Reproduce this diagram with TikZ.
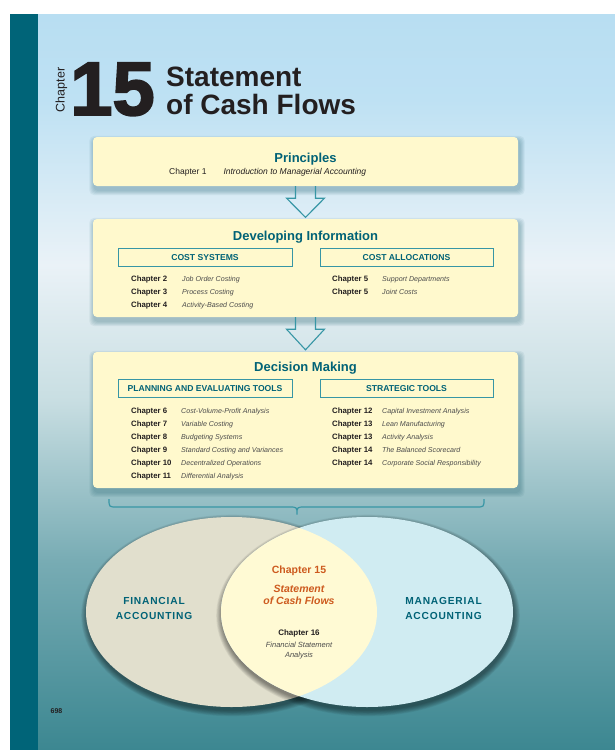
\documentclass[tikz,border=0pt]{standalone}
\usepackage{fontspec}
\setmainfont{Liberation Sans}
\newfontfamily\heavyfont[FakeBold=2.5]{Liberation Sans Bold}
\newfontfamily\trackfont[LetterSpace=8]{Liberation Sans Bold}
\usepackage{xcolor}
\usetikzlibrary{positioning}
\definecolor{PageTeal}{RGB}{0,100,120}
\definecolor{TitleTeal}{RGB}{0,98,118}
\definecolor{FrameTeal}{RGB}{55,150,165}
\definecolor{ShadowTeal}{RGB}{30,95,110}
\definecolor{BoxCream}{RGB}{255,249,205}
\definecolor{InkDark}{RGB}{35,31,32}
\definecolor{InkGray}{RGB}{75,75,75}
\definecolor{FlowOrange}{RGB}{205,90,30}
\definecolor{FinBeige}{RGB}{225,223,205}
\definecolor{MgrBlue}{RGB}{208,236,242}
\definecolor{LensYellow}{RGB}{255,250,212}
\definecolor{BgTop}{RGB}{184,222,242}
\definecolor{BgA}{RGB}{190,225,243}
\definecolor{BgLight}{RGB}{234,242,247}
\definecolor{BgB}{RGB}{200,222,226}
\definecolor{BgC}{RGB}{120,172,180}
\definecolor{BgBottom}{RGB}{60,135,145}
\pgfdeclarelayer{page}
\pgfdeclarelayer{haze}
\pgfsetlayers{page,haze,main}

\begin{document}
\begin{tikzpicture}[x=1pt, y=-1pt,
    stagebox/.style={fill=BoxCream, rounded corners=4pt, minimum width=425pt, inner sep=0pt},
    stagetitle/.style={anchor=base, inner sep=0pt, font=\fontsize{13}{15}\selectfont\bfseries, text=TitleTeal},
    subbox/.style={draw=FrameTeal, line width=0.9pt, minimum height=18pt, inner sep=0pt, text depth=0pt,
                   font=\fontsize{8.6}{10}\selectfont\bfseries, text=TitleTeal},
    chapnum/.style={anchor=base west, inner sep=0pt, font=\fontsize{7.8}{9}\selectfont\bfseries, text=InkDark},
    chapname/.style={anchor=base west, inner sep=0pt, font=\fontsize{7.1}{8}\selectfont\itshape, text=InkGray},
    hollow/.style={draw=FrameTeal, line width=1.1pt, line join=miter},
    venntag/.style={anchor=base, inner sep=0pt, font=\trackfont\fontsize{10.2}{12}\selectfont, text=TitleTeal},
    lenstext/.style={anchor=base, inner sep=0pt, text=FlowOrange, font=\fontsize{10.5}{12}\selectfont\bfseries}
]
\useasboundingbox (0,0) rectangle (615,750);

% Page, side strip and sky-to-teal backdrop
\begin{pgfonlayer}{page}
\fill[white] (0,0) rectangle (615,750);
\fill[PageTeal] (10,14) rectangle (38,750);
\fill[top color=BgTop, bottom color=BgA] (38,14) rectangle (615,100.5);
\fill[top color=BgA, bottom color=BgLight] (38,100) rectangle (615,265.5);
\fill[top color=BgLight, bottom color=BgB] (38,265) rectangle (615,400.5);
\fill[top color=BgB, bottom color=BgC] (38,400) rectangle (615,560.5);
\fill[top color=BgC, bottom color=BgBottom] (38,560) rectangle (615,750);
\end{pgfonlayer}

% Heading
\node[rotate=90, anchor=base, inner sep=0pt, text=InkDark, font=\fontsize{12.5}{14}\selectfont] (chapword) at (64.5,90) {Chapter};
\node[anchor=base west, inner sep=0pt, text=InkDark, font=\heavyfont\fontsize{76}{80}\selectfont] (chapno) at (70,115) {15};
\node[anchor=base west, inner sep=0pt, text=InkDark, font=\fontsize{28}{30}\selectfont\bfseries] (head1) at (166,86) {Statement};
\node[anchor=base west, inner sep=0pt, text=InkDark, font=\fontsize{28}{30}\selectfont\bfseries] (head2) at (166,114) {of Cash Flows};

% Stage boxes
\node[stagebox, minimum height=49pt] (princ) at (305.5,161.5) {};
\node[stagebox, minimum height=98pt] (devinfo) at (305.5,268) {};
\node[stagebox, minimum height=136pt] (decmake) at (305.5,420) {};

\begin{pgfonlayer}{haze}
\foreach \b in {princ,devinfo,decmake} {
  \foreach \d in {1,...,5} {
    \fill[ShadowTeal, opacity=0.07, rounded corners=5pt]
      ([shift={(1.5-\d,4-\d)}]\b.north west) rectangle ([shift={(1.5+\d,4+\d)}]\b.south east);
  }
}
\end{pgfonlayer}

% Hollow arrows between stages
\draw[hollow] ([xshift=-10pt]princ.south) -- ([xshift=-10pt,yshift=-12pt]princ.south)
  -- ([xshift=-19pt,yshift=-12pt]princ.south) -- ([yshift=1.5pt]devinfo.north)
  -- ([xshift=19pt,yshift=-12pt]princ.south) -- ([xshift=10pt,yshift=-12pt]princ.south)
  -- ([xshift=10pt]princ.south);
\draw[hollow] ([xshift=-10pt]devinfo.south) -- ([xshift=-10pt,yshift=-12pt]devinfo.south)
  -- ([xshift=-19pt,yshift=-12pt]devinfo.south) -- ([yshift=2pt]decmake.north)
  -- ([xshift=19pt,yshift=-12pt]devinfo.south) -- ([xshift=10pt,yshift=-12pt]devinfo.south)
  -- ([xshift=10pt]devinfo.south);

% Principles
\node[stagetitle] (princtitle) at (305.5,162) {Principles};
\node[anchor=base west, inner sep=0pt, text=InkDark, font=\fontsize{8.5}{10}\selectfont] (chap1) at (169,174.5)
  {Chapter 1\hspace{17pt}\textit{Introduction to Managerial Accounting}};

% Developing Information
\node[stagetitle] (devtitle) at (305.5,240) {Developing Information};
\node[subbox, minimum width=174pt] (costsys) at (205,257) {COST SYSTEMS};
\node[subbox, minimum width=173pt] (costalloc) at (406.5,257) {COST ALLOCATIONS};
\foreach \num/\desc [count=\i] in {2/Job Order Costing, 3/Process Costing, 4/Activity-Based Costing} {
  \node[chapnum] (sys\i) at (131,268+13*\i) {Chapter \num};
  \node[chapname] (sysname\i) at (182,268+13*\i) {\desc};
}
\foreach \num/\desc [count=\i] in {5/Support Departments, 5/Joint Costs} {
  \node[chapnum] (alloc\i) at (332,268+13*\i) {Chapter \num};
  \node[chapname] (allocname\i) at (382,268+13*\i) {\desc};
}

% Decision Making
\node[stagetitle] (dectitle) at (305.5,371) {Decision Making};
\node[subbox, minimum width=174pt] (plantools) at (205,388) {PLANNING AND EVALUATING TOOLS};
\node[subbox, minimum width=173pt] (strattools) at (406.5,388) {STRATEGIC TOOLS};
\foreach \num/\desc [count=\i] in {6/Cost-Volume-Profit Analysis, 7/Variable Costing, 8/Budgeting Systems,
    9/Standard Costing and Variances, 10/Decentralized Operations, 11/Differential Analysis} {
  \node[chapnum] (plan\i) at (131,400.3+13*\i) {Chapter \num};
  \node[chapname] (planname\i) at (181,400.3+13*\i) {\desc};
}
\foreach \num/\desc [count=\i] in {12/Capital Investment Analysis, 13/Lean Manufacturing, 13/Activity Analysis,
    14/The Balanced Scorecard, 14/Corporate Social Responsibility} {
  \node[chapnum] (strat\i) at (332,400.3+13*\i) {Chapter \num};
  \node[chapname] (stratname\i) at (382,400.3+13*\i) {\desc};
}

% Brace under the stages
\draw[FrameTeal, line width=1.2pt] (109,499) .. controls (109,507) .. (117,507) -- (289,507)
  .. controls (297,507) .. (297,514.5) .. controls (297,507) .. (305,507) -- (476,507)
  .. controls (484,507) .. (484,499);

% Venn diagram
\foreach \d in {1,...,9}
  \fill[black, opacity=0.055] (232.5,615.5) ellipse [x radius=145+0.7*\d, y radius=94.5+0.7*\d];
\fill[FinBeige] (231.5,612) ellipse [x radius=145.5, y radius=95];
\foreach \d in {1,...,9}
  \fill[black, opacity=0.055] (368,615.5) ellipse [x radius=145.5+0.7*\d, y radius=94.5+0.7*\d];
\fill[MgrBlue] (367,612) ellipse [x radius=146, y radius=95];
\begin{scope}
  \clip (231.5,612) ellipse [x radius=145.5, y radius=95];
  \fill[LensYellow] (367,612) ellipse [x radius=146, y radius=95];
\end{scope}

\node[venntag] (fin1) at (154,604) {FINANCIAL};
\node[venntag] (fin2) at (154,619) {ACCOUNTING};
\node[venntag] (mgr1) at (443.5,604) {MANAGERIAL};
\node[venntag] (mgr2) at (443.5,619) {ACCOUNTING};

\node[lenstext] (ch15) at (299,573) {Chapter 15};
\node[lenstext, font=\fontsize{10.5}{12}\selectfont\bfseries\itshape] (ch15a) at (299,592) {Statement};
\node[lenstext, font=\fontsize{10.5}{12}\selectfont\bfseries\itshape] (ch15b) at (299,604) {of Cash Flows};
\node[anchor=base, inner sep=0pt, text=InkDark, font=\fontsize{8}{9}\selectfont\bfseries] (ch16) at (299,635) {Chapter 16};
\node[anchor=base, inner sep=0pt, text=InkGray, font=\fontsize{7.5}{9}\selectfont\itshape] (ch16a) at (299,647.5) {Financial Statement};
\node[anchor=base, inner sep=0pt, text=InkGray, font=\fontsize{7.5}{9}\selectfont\itshape] (ch16b) at (299,657.5) {Analysis};

% Folio
\node[anchor=base, inner sep=0pt, text=InkDark, font=\fontsize{7}{8}\selectfont\bfseries] (folio) at (56.5,713) {698};

\end{tikzpicture}
\end{document}
